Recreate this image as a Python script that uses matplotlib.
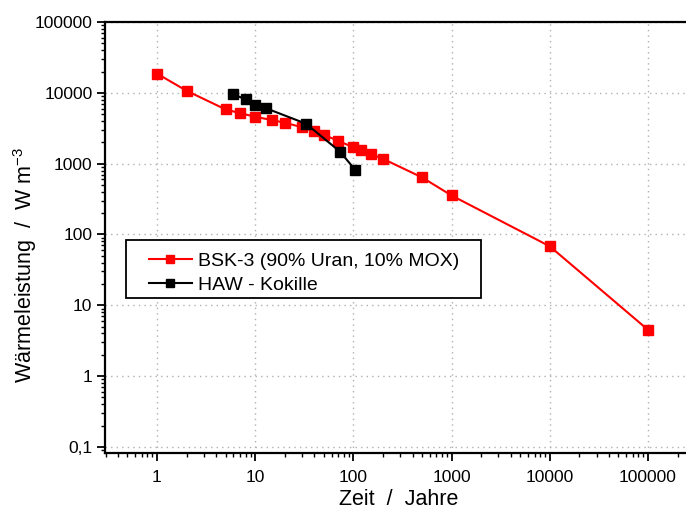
import numpy as np
import matplotlib.pyplot as plt
from matplotlib.patches import Rectangle
from matplotlib.ticker import LogLocator, FuncFormatter, NullFormatter

plt.rcParams['font.family'] = ['Liberation Sans', 'DejaVu Sans']
plt.rcParams['mathtext.fontset'] = 'custom'
plt.rcParams['mathtext.rm'] = 'Liberation Sans'

# BSK-3 (90% Uran, 10% MOX)
bsk_years = [1, 2, 5, 7, 10, 15, 20, 30, 40, 50, 70, 100, 120, 150, 200,
             500, 1000, 10000, 100000]
bsk_power = [18700, 10700, 5830, 5170, 4590, 4110, 3780, 3270, 2870, 2550,
             2100, 1700, 1545, 1370, 1170, 640, 355, 68, 4.5]

# HAW - Kokille
haw_years = [6, 8, 10, 13, 33, 73, 104]
haw_power = [9520, 8090, 6810, 6030, 3660, 1480, 822]

fig = plt.figure(figsize=(6.86, 5.11), dpi=100)
ax = fig.add_axes([0.153, 0.1135, 0.847, 0.8434])

ax.plot(bsk_years, bsk_power, color='#ff0000', lw=1.5, marker='s', ms=7,
        mec='#ff0000', label='BSK-3 (90% Uran, 10% MOX)')
ax.plot(haw_years, haw_power, color='black', lw=1.5, marker='s', ms=7,
        label='HAW - Kokille')

ax.set_xscale('log')
ax.set_yscale('log')
ax.set_xlim(0.2954, 243800)
ax.set_ylim(0.082, 100000)

ax.xaxis.set_major_locator(LogLocator(base=10, numticks=20))
ax.yaxis.set_major_locator(LogLocator(base=10, numticks=20))
ax.xaxis.set_minor_locator(LogLocator(base=10, subs=np.arange(2, 10), numticks=20))
ax.yaxis.set_minor_locator(LogLocator(base=10, subs=np.arange(2, 10), numticks=20))
fmt = FuncFormatter(lambda v, p: ('%g' % v).replace('.', ','))
ax.xaxis.set_major_formatter(fmt)
ax.yaxis.set_major_formatter(fmt)
ax.xaxis.set_minor_formatter(NullFormatter())
ax.yaxis.set_minor_formatter(NullFormatter())

ax.tick_params(which='major', direction='out', length=5.5, width=1.3,
               labelsize=12.5, pad=3.5)
ax.tick_params(axis='x', which='major', pad=7)
ax.tick_params(which='minor', direction='out', length=3, width=1)

ax.grid(True, which='major', color='#b0b0b0', linestyle=(0, (1, 3)), lw=1)
for s in ['left', 'bottom', 'top']:
    ax.spines[s].set_linewidth(1.6)
ax.spines['right'].set_visible(False)

ax.set_xlabel('Zeit  /  Jahre', fontsize=15.5, va='center')
ax.set_ylabel('Wärmeleistung  /  W m$^{\\mathregular{-3}}$', fontsize=15.5,
              va='center')
ax.xaxis.set_label_coords(0.506, -0.109)
ax.yaxis.set_label_coords(-0.1377, 0.436)

# legend frame drawn separately (wider padding left/right than top/bottom)
ax.add_patch(Rectangle((0.0361, 0.3596), 0.611, 0.1346, transform=ax.transAxes,
                       facecolor='white', edgecolor='black', lw=1.3, zorder=4))
ax.legend(loc='upper left', bbox_to_anchor=(0.0757, 0.466), fontsize=14,
          frameon=False, borderpad=0, borderaxespad=0, handlelength=2.2,
          handletextpad=0.3, labelspacing=0.35, markerscale=0.75).set_zorder(5)

fig.savefig('out.png', dpi=100)
